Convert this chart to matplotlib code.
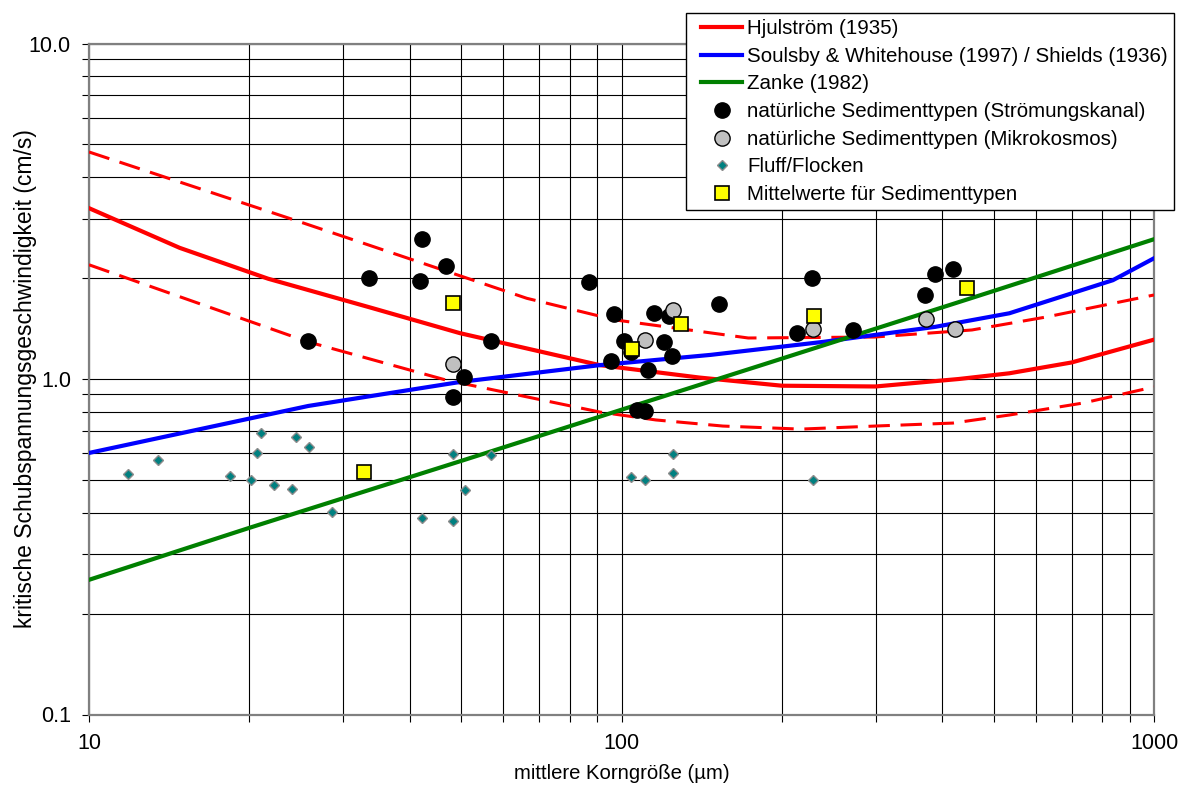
import matplotlib.pyplot as plt
from matplotlib.lines import Line2D
from matplotlib.legend_handler import HandlerLine2D
from matplotlib.ticker import LogLocator, NullFormatter, FixedLocator, FixedFormatter

plt.rcParams['font.family'] = ['Liberation Sans', 'DejaVu Sans']

# Hjulström (1935): Mittelkurve und Streubereich (gestrichelt)
hj_x = [10, 14.8, 21.7, 33.9, 49.7, 91, 140, 200, 300, 430, 535, 700, 1000]
hj_y = [3.23, 2.46, 1.99, 1.63, 1.37, 1.10, 1.01, 0.955, 0.95, 1.0, 1.04, 1.12, 1.31]
hj_hi_x = [10, 24.9, 66.4, 97.3, 173, 299, 455, 627, 1000]
hj_hi_y = [4.75, 2.94, 1.74, 1.50, 1.325, 1.334, 1.40, 1.53, 1.78]
hj_lo_x = [10, 25.8, 46.8, 91.1, 116, 155, 217, 299, 419, 535, 736, 1000]
hj_lo_y = [2.19, 1.29, 0.993, 0.797, 0.755, 0.724, 0.709, 0.724, 0.739, 0.781, 0.848, 0.947]

# Soulsby & Whitehouse (1997) / Shields (1936)
sw_x = [10, 25.8, 49.8, 91.1, 147, 239, 388, 535, 837, 1000]
sw_y = [0.602, 0.831, 0.98, 1.10, 1.18, 1.29, 1.43, 1.57, 1.97, 2.29]

# Zanke (1982)
za_x = [10, 20, 50, 100, 200, 500, 1000]
za_y = [0.252, 0.36, 0.57, 0.81, 1.15, 1.83, 2.61]

# natürliche Sedimenttypen (Strömungskanal)
kanal_x = [25.8, 33.6, 42.2, 41.8, 46.8, 48.3, 50.6, 56.9, 86.9, 96.8, 95.6, 101.1, 112.1,
           115.1, 120.2, 122.8, 124.4, 106.9, 110.7, 104.2, 152.4, 213.6, 227.9, 272.1,
           371.5, 387.9, 419.3]
kanal_y = [1.30, 2.00, 2.61, 1.96, 2.17, 0.884, 1.014, 1.30, 1.95, 1.56, 1.13, 1.30, 1.064,
           1.57, 1.29, 1.54, 1.171, 0.808, 0.803, 1.20, 1.67, 1.37, 2.00, 1.40,
           1.78, 2.06, 2.13]

# natürliche Sedimenttypen (Mikrokosmos)
mikro_x = [48.3, 110.7, 124.9, 228.9, 373.1, 422.9]
mikro_y = [1.108, 1.307, 1.606, 1.41, 1.51, 1.41]

# Fluff/Flocken
fluff_x = [11.84, 13.48, 18.4, 20.15, 20.7, 21.0, 22.3, 24.1, 24.5, 25.9, 28.6, 42.2,
           48.3, 48.3, 50.8, 56.9, 104.2, 110.7, 124.9, 124.9, 228.9]
fluff_y = [0.521, 0.574, 0.514, 0.50, 0.602, 0.69, 0.483, 0.470, 0.672, 0.627, 0.401, 0.385,
           0.598, 0.377, 0.467, 0.594, 0.510, 0.50, 0.598, 0.525, 0.50]

# Mittelwerte für Sedimenttypen
mittel_x = [32.8, 48.3, 104.6, 129.3, 229.9, 445.5]
mittel_y = [0.528, 1.685, 1.229, 1.458, 1.54, 1.87]

x_ticks = [10, 100, 1000]
x_labels = ['10', '100', '1000']
y_ticks = [0.1, 1, 10]
y_labels = ['0.1', '1.0', '10.0']

fig, ax = plt.subplots(figsize=(11.81, 7.85), dpi=100)
fig.subplots_adjust(left=89/1181, right=1154/1181, top=1-43.5/785, bottom=1-714.5/785)

ax.set_xscale('log')
ax.set_yscale('log')
ax.set_xlim(10, 1000)
ax.set_ylim(0.1, 10)

h_hj, = ax.plot(hj_x, hj_y, color='#FF0000', lw=3, zorder=3, label='Hjulström (1935)')
ax.plot(hj_hi_x, hj_hi_y, color='#FF0000', lw=2.2, dashes=(7, 3.5), zorder=3)
ax.plot(hj_lo_x, hj_lo_y, color='#FF0000', lw=2.2, dashes=(7, 3.5), zorder=3)
h_sw, = ax.plot(sw_x, sw_y, color='#0000FF', lw=3, zorder=3,
                label='Soulsby & Whitehouse (1997) / Shields (1936)')
h_za, = ax.plot(za_x, za_y, color='#008000', lw=3, zorder=3, label='Zanke (1982)')

h_k, = ax.plot(kanal_x, kanal_y, 'o', ms=11, mfc='black', mec='black', zorder=4,
               label='natürliche Sedimenttypen (Strömungskanal)')
h_m, = ax.plot(mikro_x, mikro_y, 'o', ms=11, mfc='#C0C0C0', mec='black', mew=1, zorder=5,
               label='natürliche Sedimenttypen (Mikrokosmos)')
h_f, = ax.plot(fluff_x, fluff_y, 'D', ms=5.5, mfc='#008080', mec='#8C8C8C', mew=1, zorder=5,
               label='Fluff/Flocken')
h_y, = ax.plot(mittel_x, mittel_y, 's', ms=9.5, mfc='#FFFF00', mec='black', mew=1.2, zorder=6,
               label='Mittelwerte für Sedimenttypen')

# Achsen, Gitter
ax.xaxis.set_major_locator(FixedLocator(x_ticks))
ax.xaxis.set_major_formatter(FixedFormatter(x_labels))
ax.yaxis.set_major_locator(FixedLocator(y_ticks))
ax.yaxis.set_major_formatter(FixedFormatter(y_labels))
ax.xaxis.set_minor_locator(LogLocator(base=10, subs=range(2, 10)))
ax.yaxis.set_minor_locator(LogLocator(base=10, subs=range(2, 10)))
ax.xaxis.set_minor_formatter(NullFormatter())
ax.yaxis.set_minor_formatter(NullFormatter())

ax.grid(True, which='both', color='black', lw=0.8)
ax.set_axisbelow(True)
for s in ax.spines.values():
    s.set_color('#808080')
    s.set_linewidth(1.6)
ax.tick_params(which='both', direction='out', length=5, width=0.8, color='black',
               labelsize=15.5, pad=8)

ax.set_xlabel('mittlere Korngröße (µm)', fontsize=14.6)
ax.set_ylabel('kritische Schubspannungsgeschwindigkeit (cm/s)', fontsize=16.5)
ax.xaxis.set_label_coords(0.5, -0.074)
ax.yaxis.set_label_coords(-0.049, 0.5)

leg = fig.legend(handles=[h_hj, h_sw, h_za, h_k, h_m, h_f, h_y],
                 loc='upper left', bbox_to_anchor=(686/1181, 1-13/785),
                 fontsize=14.8, frameon=True, fancybox=False, framealpha=1,
                 edgecolor='black', borderpad=0.3, labelspacing=0.42,
                 handlelength=2.43, handletextpad=0.25, borderaxespad=0,
                 handler_map={Line2D: HandlerLine2D(xpad=0.44)})
leg.get_frame().set_linewidth(1.0)

fig.savefig('out.png', dpi=100)
